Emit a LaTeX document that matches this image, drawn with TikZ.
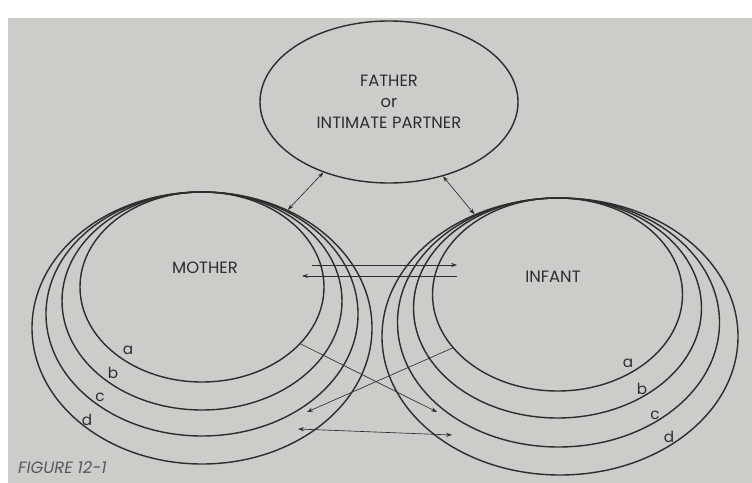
\documentclass[tikz,border=0pt]{standalone}
\usepackage{fontspec}
\setmainfont{Poppins}
\usetikzlibrary{shapes.geometric,arrows.meta}
\definecolor{paper}{RGB}{204,204,201}
\definecolor{ink}{RGB}{45,45,45}
\tikzset{
  ring/.style={ellipse,draw=ink,line width=1.2pt,inner sep=0pt},
  tag/.style={font=\fontsize{14}{18}\selectfont,text=ink},
  ringtag/.style={font=\fontsize{13}{13}\selectfont,text=ink,inner sep=0pt},
  link/.style={draw=ink,line width=0.55pt,-{Stealth[length=5pt,width=3.5pt]}},
  twoway/.style={link,{Stealth[length=5pt,width=3.5pt]}-{Stealth[length=5pt,width=3.5pt]}},
}

\begin{document}
\begin{tikzpicture}[x=0.03cm,y=-0.03cm]
  \useasboundingbox (0,0) rectangle (752,483);
  \clip (0,0) rectangle (752,483);
  \fill[white] (0,0) rectangle (752,483);
  \fill[paper] (8,18) rectangle (752,483);

  % father or partner
  \node[ring,minimum width=7.74cm,minimum height=4.86cm,tag,align=center] (father) at (389,102)
    {FATHER\\or\\INTIMATE PARTNER};

  % mother rings a..d
  \foreach \r/\cx/\cy/\rx/\ry in {a/202/287/122/95, b/202/301/140/109, c/202/314/156/122, d/202/328/170/136}
    \node[ring,minimum width=\rx*0.06cm,minimum height=\ry*0.06cm] (mother-\r) at (\cx,\cy) {};
  \foreach \r/\x/\y in {a/128/350, b/113/373, c/100/397, d/87/420}
    \node[ringtag] (mlab-\r) at (\x,\y) {\r};
  \node[tag] (mother) at (205,268) {MOTHER};

  % infant rings a..d
  \foreach \r/\cx/\cy/\rx/\ry in {a/557.5/294.5/125/96.5, b/557.5/308/144/110, c/558.5/322.5/161/124.5, d/560/336.5/178/138.5}
    \node[ring,minimum width=\rx*0.06cm,minimum height=\ry*0.06cm] (infant-\r) at (\cx,\cy) {};
  \foreach \r/\x/\y in {a/628/363, b/642/389, c/655/415, d/669/437}
    \node[ringtag] (ilab-\r) at (\x,\y) {\r};
  \node[tag] (infant) at (553,277) {INFANT};

  % free ends of the exchanges
  \coordinate (m-out) at (312,265);
  \coordinate (i-in) at (457,265);
  \coordinate (i-out) at (457,276);
  \coordinate (m-in) at (302,276);
  \coordinate (m-low) at (307,412);
  \coordinate (i-low) at (437,412);
  \coordinate (m-base) at (298,429);
  \coordinate (i-base) at (452,435);

  \draw[twoway] (father.227) -- (mother-d.54);
  \draw[twoway] (father.306) -- (infant-d.125);
  \draw[link] (m-out) -- (i-in);
  \draw[link] (i-out) -- (m-in);
  \draw[link] (mother-a.330) -- (i-low);
  \draw[link] (infant-a.207) -- (m-low);
  \draw[twoway] (m-base) -- (i-base);

  \node[anchor=north west,inner sep=0pt,font=\itshape\fontsize{14}{14}\selectfont,text=ink!80] (caption) at (18,461) {FIGURE 12-1};
\end{tikzpicture}
\end{document}
